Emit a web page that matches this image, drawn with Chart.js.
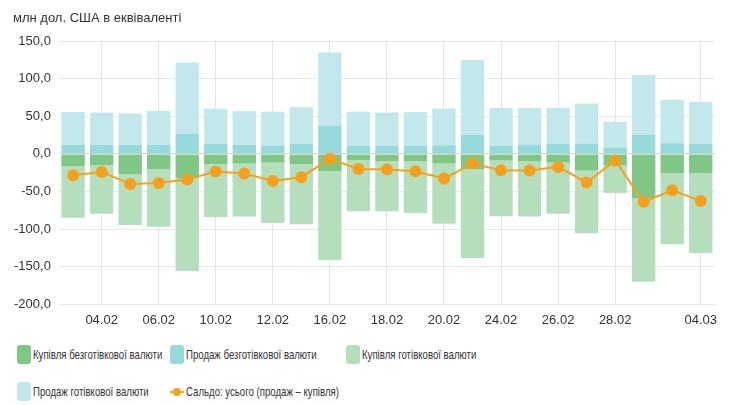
<!DOCTYPE html>
<html>
<head>
<meta charset="utf-8">
<script src="https://cdn.jsdelivr.net/npm/chart.js@4/dist/chart.umd.min.js"></script>
<style>
  body { margin: 0; background: #fff; }
  #wrap { width: 742px; height: 343px; position: relative; }
  #title {
    position: absolute; left: 13px; top: 10px;
    font: 13px "Liberation Sans", Arial, sans-serif; color: #333;
  }
  #legend {
    display: grid;
    grid-template-columns: 153px 176px auto;
    grid-auto-rows: 37px;
    padding-left: 17px;
    margin-top: 2px;
    font: 13px "Liberation Sans", Arial, sans-serif;
    color: #333;
  }
  .item { display: flex; align-items: center; height: 19px; white-space: nowrap; }
  .item span.t { display: inline-block; transform: scaleX(0.74); transform-origin: left center; }
  .box { width: 14px; height: 19px; border-radius: 3px; margin-right: 2px; flex: none; }
  .mark { width: 14px; height: 19px; margin-right: 2px; position: relative; flex: none; }
  .mark i { position: absolute; left: 0; right: 0; top: 9px; height: 2px; }
  .mark b { position: absolute; left: 3px; top: 6px; width: 8px; height: 8px; border-radius: 50%; }
</style>
</head>
<body>
<div id="wrap"><canvas id="chart"></canvas><div id="title">млн дол. США в еквіваленті</div></div>
<div id="legend"></div>
<script>
var dates = ['03.02', '04.02', '05.02', '06.02', '07.02', '10.02', '11.02', '12.02', '13.02', '16.02', '17.02', '18.02',
  '19.02', '20.02', '21.02', '24.02', '25.02', '26.02', '27.02', '28.02', '02.03', '03.03', '04.03']
var shownDates = ['04.02', '06.02', '10.02', '12.02', '16.02', '18.02', '20.02', '24.02', '26.02', '28.02', '04.03']

// млн дол. США
var buyNonCash = [-16.4, -15, -27, -20.4, -32.8, -13.3, -12.8, -11.5, -13.7, -23, -8.4, -9.3,
  -9.7, -12.8, -20.4, -8.8, -9.7, -11.5, -22, -15.5, -58.5, -25.3, -25.7]
var sellNonCash = [12, 12, 12, 12, 26.5, 13, 12, 10.5, 13, 37.7, 10.5, 10.6,
  10.6, 11.5, 25, 10.6, 12.4, 13.3, 13.7, 8.4, 25, 14.2, 13.3]
var buyCash = [-68.6, -64.4, -67.5, -76.3, -122.9, -70.5, -70.5, -80.3, -79.9, -118, -67.9, -67,
  -68.8, -80.2, -118, -74.2, -73.6, -67.9, -83.5, -36.5, -111.3, -94.7, -106]
var sellCash = [43.5, 43, 41.5, 45, 94.5, 47, 44.5, 45.5, 49, 97.1, 45.5, 44.4,
  44.9, 48.8, 99.7, 50.4, 48.6, 47.7, 53.3, 34.2, 79.7, 57.8, 55.5]
var saldo = [-28.4, -24, -40, -38.6, -34, -23.5, -26, -36, -31, -6.6, -20, -20.8,
  -23, -32.8, -12.8, -21.7, -22, -17.3, -38, -8.8, -63.9, -48.3, -62.5]

var font = { family: '"Liberation Sans", Arial, sans-serif', size: 13 }

function bar(label, data, color) {
  return {
    type: 'bar', label: label, data: data, backgroundColor: color,
    stack: 'flows', order: 1, barPercentage: 0.82, categoryPercentage: 1
  }
}

var chart = new Chart(document.getElementById('chart'), {
  data: {
    labels: dates,
    datasets: [
      bar('Купівля безготівкової валюти', buyNonCash, '#80c684'),
      bar('Продаж безготівкової валюти', sellNonCash, '#97dadb'),
      bar('Купівля готівкової валюти', buyCash, '#b5dfbc'),
      bar('Продаж готівкової валюти', sellCash, '#c3e8eb'),
      {
        type: 'line', label: 'Сальдо: усього (продаж – купівля)', data: saldo,
        borderColor: '#f6a01c', backgroundColor: '#f6a01c', borderWidth: 2,
        pointRadius: 5, pointHoverRadius: 5, tension: 0, stack: 'saldo', order: 0
      }
    ]
  },
  options: {
    responsive: true,
    maintainAspectRatio: false,
    animation: false,
    layout: { padding: { left: 6, right: 27, top: 41, bottom: 7 } },
    plugins: {
      legend: { display: false },
      tooltip: { enabled: false }
    },
    scales: {
      x: {
        stacked: true,
        grid: {
          offset: false, drawTicks: false,
          color: function (ctx) {
            return shownDates.indexOf(dates[ctx.index]) >= 0 ? '#e4e4e4' : 'rgba(0,0,0,0)'
          }
        },
        border: { display: false },
        ticks: {
          autoSkip: false, maxRotation: 0, padding: 8, color: '#333', font: font,
          callback: function (v, i) {
            return shownDates.indexOf(dates[i]) >= 0 ? dates[i] : ''
          }
        }
      },
      y: {
        stacked: true,
        min: -200, max: 150,
        z: 1,
        grid: {
          drawTicks: false,
          color: function (ctx) { return ctx.tick && ctx.tick.value === 0 ? '#cfcfcf' : 'rgba(0,0,0,0.09)' }
        },
        border: { display: false },
        ticks: {
          stepSize: 50, padding: 8, color: '#333', font: font,
          callback: function (v) { return v.toFixed(1).replace('.', ',') }
        }
      }
    }
  }
})

var legend = document.getElementById('legend')
chart.data.datasets.forEach(function (ds) {
  var item = document.createElement('div')
  item.className = 'item'
  var sw = document.createElement('span')
  if (ds.type === 'line') {
    sw.className = 'mark'
    sw.innerHTML = '<i style="background:' + ds.borderColor + '"></i><b style="background:' + ds.borderColor + '"></b>'
  } else {
    sw.className = 'box'
    sw.style.background = ds.backgroundColor
  }
  var txt = document.createElement('span')
  txt.className = 't'
  txt.textContent = ds.label
  item.appendChild(sw)
  item.appendChild(txt)
  legend.appendChild(item)
})
</script>
</body>
</html>
